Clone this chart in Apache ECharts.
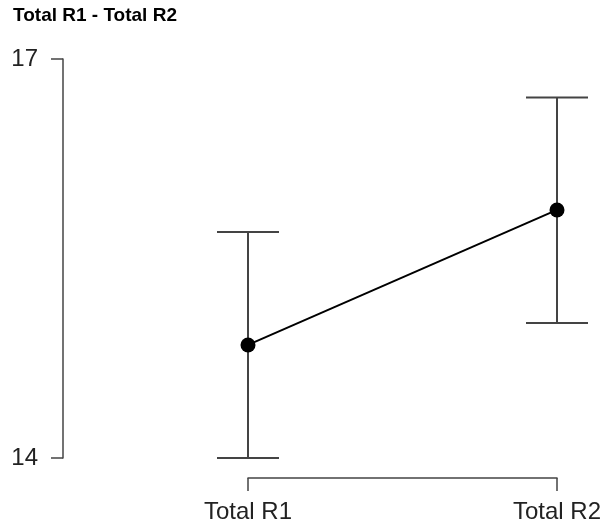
<!DOCTYPE html>
<html>
<head>
<meta charset="utf-8">
<script src="https://cdn.jsdelivr.net/npm/echarts@6/dist/echarts.min.js"></script>
<style>
    html, body { margin: 0; padding: 0; background: #fff; }
    #chart { width: 605px; height: 527px; }
</style>
</head>
<body>
<div id="chart"></div>
<script>
    // data
    const categories = ['Total R1', 'Total R2']
    const means = [14.85, 15.865]
    const lower = [14.0, 15.015]
    const upper = [15.70, 16.71]
    const yMin = 14
    const yMax = 17

    const font = '"Liberation Sans", Arial, sans-serif'
    const chart = echarts.init(document.getElementById('chart'))

    const errData = categories.map((c, i) => [i, lower[i], upper[i]])

    chart.setOption({
        animation: false,
        title: {
            text: 'Total R1 - Total R2',
            left: 13,
            top: 6,
            padding: 0,
            textStyle: { fontFamily: font, fontSize: 19, fontWeight: 'bold', color: '#000' }
        },
        grid: { left: 248, right: 48, top: 59, bottom: 69 },
        xAxis: {
            type: 'category',
            data: categories,
            boundaryGap: false,
            offset: 20,
            axisLine: { lineStyle: { color: '#444', width: 1.5 } },
            axisTick: { length: 13, lineStyle: { color: '#444', width: 1.5 } },
            axisLabel: { fontFamily: font, fontSize: 24, color: '#222', margin: 22 },
            splitLine: { show: false }
        },
        yAxis: {
            type: 'value',
            min: yMin,
            max: yMax,
            interval: yMax - yMin,
            offset: 185,
            axisLine: { show: true, lineStyle: { color: '#444', width: 1.5 } },
            axisTick: { show: true, length: 12, lineStyle: { color: '#444', width: 1.5 } },
            axisLabel: { fontFamily: font, fontSize: 24, color: '#222', margin: 25 },
            splitLine: { show: false }
        },
        series: [
            {
                type: 'custom',
                data: errData,
                z: 1,
                renderItem: (params, api) => {
                    const lo = api.coord([api.value(0), api.value(1)])
                    const hi = api.coord([api.value(0), api.value(2)])
                    const w = 31
                    const style = { stroke: '#444', lineWidth: 2 }
                    return {
                        type: 'group',
                        children: [
                            { type: 'line', shape: { x1: lo[0], y1: lo[1], x2: hi[0], y2: hi[1] }, style },
                            { type: 'line', shape: { x1: hi[0] - w, y1: hi[1], x2: hi[0] + w, y2: hi[1] }, style },
                            { type: 'line', shape: { x1: lo[0] - w, y1: lo[1], x2: lo[0] + w, y2: lo[1] }, style }
                        ]
                    }
                }
            },
            {
                type: 'line',
                data: means,
                z: 2,
                symbol: 'circle',
                symbolSize: 15,
                itemStyle: { color: '#000' },
                lineStyle: { color: '#000', width: 2 }
            }
        ]
    })
</script>
</body>
</html>
